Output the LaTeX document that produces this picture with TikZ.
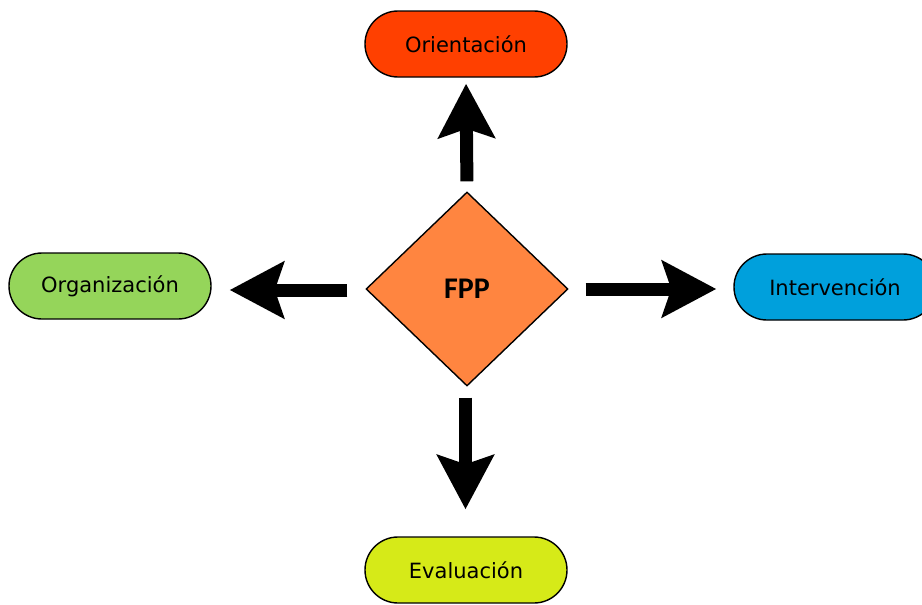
\documentclass[tikz,border=0pt]{standalone}
\usepackage{fontspec}
\setmainfont{DejaVu Sans}
\newfontfamily\fppfont{Carlito}
\usetikzlibrary{arrows.meta,shapes.geometric}
\definecolor{oricolor}{RGB}{255,64,0}
\definecolor{orgcolor}{RGB}{149,213,90}
\definecolor{intcolor}{RGB}{0,160,220}
\definecolor{evacolor}{RGB}{214,234,24}
\definecolor{fppcolor}{RGB}{255,133,64}
\tikzset{
  stage/.style={draw=black, line width=1.4pt, rounded corners=33pt, minimum width=202pt,
    minimum height=66pt, inner sep=0pt, font=\fontsize{21}{25}\selectfont},
  bigarrow/.style={line width=13pt, -{Stealth[length=54pt,width=56pt,inset=9pt]}}
}
\begin{document}
\begin{tikzpicture}[x=1pt, y=-1pt]
 \useasboundingbox (0,0) rectangle (922,605);
 \clip (0,0) rectangle (922,605);
 \node[diamond, draw=black, line width=1.4pt, fill=fppcolor, minimum width=202pt, minimum height=194pt,
   inner sep=0pt, font=\fppfont\bfseries\fontsize{30}{34}\selectfont] (fpp) at (467,289) {FPP};
 \node[stage, fill=oricolor] (ori) at (466,44) {Orientación};
 \node[stage, fill=orgcolor] (org) at (110,286) {Organización};
 \node[stage, fill=intcolor] (int) at (835,287) {Intervención};
 \node[stage, fill=evacolor] (eva) at (466,570) {Evaluación};
 \draw[bigarrow, shorten <=10pt, shorten >=6pt] (fpp.north) -- (ori.south);
 \draw[bigarrow, shorten <=11pt, shorten >=27pt] ([xshift=-1.5pt]fpp.south) -- ([xshift=-0.5pt]eva.north);
 \draw[bigarrow, shorten <=18pt, shorten >=18pt] ([yshift=-1pt]fpp.west) -- ([yshift=-1pt]fpp.west -| org.east);
 \draw[bigarrow, shorten <=17pt, shorten >=17pt] (fpp.east) -- (fpp.east -| int.west);
\end{tikzpicture}
\end{document}
